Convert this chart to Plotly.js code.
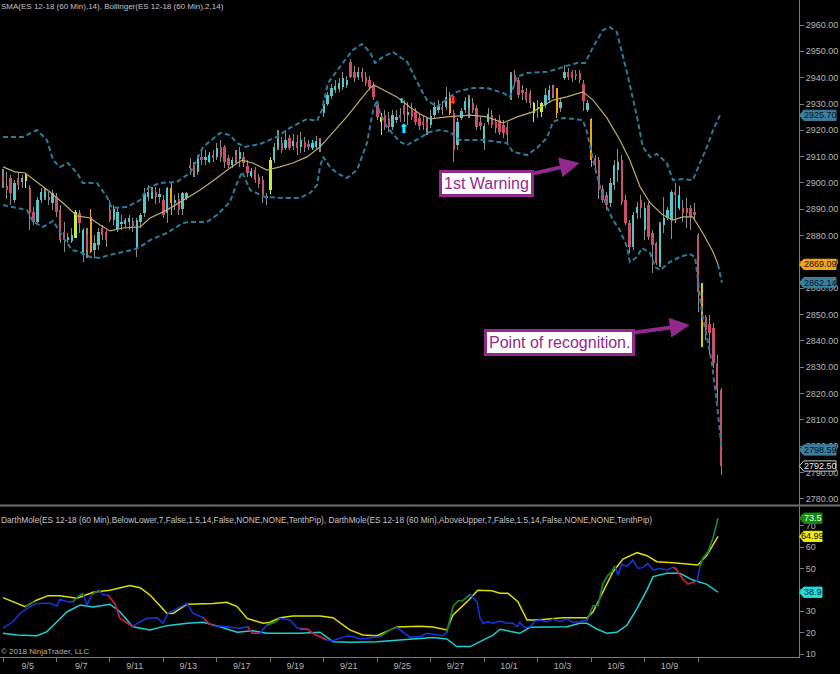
<!DOCTYPE html>
<html><head><meta charset="utf-8">
<script src="https://cdn.plot.ly/plotly-3.0.1.min.js"></script>
<style>html,body{margin:0;padding:0;background:#000;}#chart{width:840px;height:674px;}</style>
</head><body><div id="chart"></div>
<script>
// ---------- price data: ES 12-18 (60 Min), one row per session (7 bars) ----------
const open = [
2902.6,2899.0,2901.9,2893.5,2901.9,2900.3,2900.7,
2898.0,2888.9,2885.1,2893.5,2894.6,2894.6,2892.4,
2894.6,2889.7,2881.3,2878.3,2878.0,2879.0,2888.6,
2872.6,2880.2,2887.0,2874.5,2876.4,2882.9,2881.3,
2890.0,2885.9,2882.5,2884.4,2884.4,2885.1,2885.5,
2875.3,2885.1,2888.6,2894.6,2894.2,2896.5,2894.6,
2893.5,2888.6,2898.0,2892.4,2893.9,2890.0,2894.2,
2906.8,2906.8,2904.2,2909.9,2908.7,2908.0,2910.6,
2910.0,2913.7,2913.7,2909.5,2906.8,2910.6,2909.1,
2909.9,2906.3,2902.6,2904.9,2902.2,2901.1,2895.0,
2897.3,2908.7,2913.7,2915.2,2913.3,2917.1,2913.9,
2915.6,2913.7,2915.6,2914.8,2913.3,2913.7,2914.0,
2926.6,2930.0,2933.0,2935.3,2935.7,2936.4,2937.2,
2945.9,2942.1,2940.2,2942.1,2940.2,2939.1,2937.2,
2929.6,2925.0,2925.8,2924.7,2921.3,2924.0,2925.8,
2929.6,2925.8,2927.7,2926.9,2924.7,2923.2,2923.2,
2922.0,2925.8,2927.7,2928.8,2928.8,2933.4,2926.6,
2914.4,2924.7,2927.7,2928.5,2930.4,2928.5,2923.2,
2915.2,2923.2,2925.8,2923.2,2923.9,2922.0,2921.3,
2934.2,2941.0,2939.1,2935.3,2934.5,2934.2,2930.4,
2928.2,2926.9,2929.6,2931.5,2936.0,2936.0,2928.5,
2939.9,2942.1,2942.1,2941.4,2941.8,2937.6,2927.7,
2924.3,2909.5,2908.7,2897.6,2895.4,2892.4,2899.2,
2904.9,2908.7,2893.5,2884.8,2875.6,2888.6,2893.5,
2882.1,2891.6,2881.0,2877.2,2869.6,2884.0,2886.7,
2885.9,2896.5,2890.5,2890.5,2890.5,2890.5,2889.0,
2880.2,2858.2,2849.1,2846.6,2844.9,2831.6,2821.3];
const high = [
2905.3,2904.0,2903.0,2901.1,2904.2,2903.0,2903.8,
2899.2,2890.8,2894.6,2898.0,2898.0,2896.5,2897.3,
2896.2,2891.6,2885.1,2881.0,2882.9,2889.7,2889.7,
2882.9,2882.9,2890.0,2880.2,2882.9,2884.0,2882.1,
2893.5,2891.6,2890.5,2887.8,2886.7,2887.8,2886.7,
2886.7,2888.6,2898.0,2899.2,2898.5,2898.5,2898.0,
2895.4,2898.4,2900.3,2895.4,2896.2,2896.5,2896.5,
2909.5,2908.0,2910.6,2912.5,2912.5,2911.7,2912.5,
2915.2,2916.3,2914.4,2910.6,2909.9,2912.5,2913.7,
2911.7,2908.7,2905.7,2906.0,2903.4,2902.6,2896.2,
2909.9,2915.2,2920.0,2917.4,2920.0,2918.3,2918.5,
2918.2,2919.4,2917.4,2916.3,2916.3,2917.8,2917.1,
2931.5,2934.5,2937.6,2939.1,2939.9,2942.1,2940.6,
2947.1,2944.4,2944.0,2943.7,2942.1,2940.6,2938.4,
2930.8,2926.6,2927.7,2926.9,2927.7,2927.7,2928.5,
2931.5,2930.8,2930.4,2928.5,2926.6,2925.4,2924.7,
2927.7,2930.8,2931.5,2931.1,2936.4,2934.5,2927.7,
2924.7,2928.5,2932.7,2933.4,2932.3,2929.6,2925.0,
2922.8,2928.5,2927.7,2924.7,2925.8,2923.9,2923.2,
2942.1,2942.9,2940.2,2937.2,2936.0,2935.3,2930.8,
2931.5,2930.8,2936.0,2937.2,2937.2,2936.0,2932.3,
2944.8,2943.7,2942.9,2942.9,2942.9,2939.1,2931.5,
2924.7,2910.6,2909.9,2899.2,2896.5,2901.9,2908.7,
2913.0,2910.6,2895.4,2885.9,2889.0,2892.8,2895.4,
2892.8,2892.8,2882.1,2877.5,2885.1,2894.6,2890.8,
2897.3,2899.9,2898.8,2893.5,2894.2,2891.6,2892.4,
2881.0,2862.0,2849.8,2849.8,2846.8,2834.6,2822.1];
const low = [
2898.0,2894.0,2891.6,2892.4,2897.3,2898.0,2898.0,
2882.1,2884.0,2884.0,2892.4,2893.5,2891.6,2889.7,
2887.0,2877.2,2873.7,2877.2,2877.2,2879.0,2881.0,
2870.0,2871.4,2873.4,2871.4,2874.5,2878.3,2875.6,
2885.0,2884.0,2881.5,2882.1,2882.9,2882.1,2881.3,
2871.9,2882.9,2887.0,2893.0,2893.9,2892.0,2892.5,
2886.7,2884.8,2887.8,2889.7,2887.8,2887.8,2893.5,
2903.0,2902.2,2903.0,2906.8,2906.8,2907.6,2908.0,
2908.7,2908.0,2905.7,2905.7,2905.7,2907.6,2906.0,
2906.0,2902.2,2901.9,2899.9,2898.0,2892.4,2891.6,
2895.7,2907.6,2912.5,2911.4,2912.5,2912.5,2912.5,
2910.6,2911.4,2911.8,2912.5,2912.5,2912.5,2911.8,
2925.1,2929.2,2931.9,2934.2,2934.5,2935.3,2936.0,
2939.9,2938.4,2939.1,2938.4,2936.8,2935.3,2931.5,
2923.9,2918.2,2920.1,2919.4,2920.1,2922.8,2923.2,
2923.2,2922.0,2923.9,2922.0,2920.1,2920.1,2918.2,
2920.9,2924.7,2926.6,2925.8,2927.7,2925.8,2907.9,
2912.5,2923.9,2926.6,2924.7,2926.6,2920.1,2920.1,
2912.5,2922.0,2920.9,2919.0,2918.2,2917.1,2914.4,
2931.5,2937.2,2932.3,2931.5,2930.4,2928.5,2923.2,
2924.7,2925.0,2928.5,2930.4,2932.3,2924.7,2926.9,
2939.1,2939.1,2938.4,2939.1,2937.9,2927.5,2926.9,
2906.0,2903.8,2893.9,2892.4,2889.7,2890.8,2897.3,
2900.3,2891.6,2884.0,2873.4,2874.5,2886.2,2886.6,
2878.3,2878.3,2865.7,2868.8,2868.0,2881.0,2885.9,
2878.6,2884.8,2889.7,2885.0,2883.0,2882.1,2885.9,
2851.0,2837.7,2840.3,2834.6,2829.7,2816.4,2789.1];
const close = [
2900.7,2897.5,2896.2,2900.0,2899.2,2901.9,2903.0,
2888.6,2885.1,2893.5,2896.5,2896.5,2893.5,2896.2,
2889.0,2878.3,2878.3,2879.4,2880.2,2888.9,2884.8,
2882.0,2874.5,2873.7,2877.2,2881.3,2880.2,2878.3,
2885.9,2890.0,2889.0,2885.1,2885.9,2886.7,2883.6,
2885.9,2887.8,2896.2,2896.5,2896.5,2894.6,2896.0,
2887.8,2898.0,2892.4,2893.5,2889.7,2896.2,2896.2,
2905.7,2904.2,2909.9,2908.7,2909.9,2910.6,2909.5,
2913.3,2910.0,2908.0,2906.8,2908.7,2908.7,2911.7,
2907.6,2903.8,2904.5,2901.1,2899.6,2895.4,2894.2,
2908.7,2913.7,2916.7,2912.5,2916.3,2913.3,2915.8,
2913.3,2916.3,2913.3,2913.7,2915.2,2915.9,2915.2,
2930.0,2933.4,2936.0,2936.8,2937.9,2939.9,2939.1,
2940.2,2939.9,2942.1,2939.9,2937.9,2936.4,2932.7,
2925.0,2923.2,2921.3,2921.3,2925.8,2925.0,2924.7,
2925.8,2927.0,2925.0,2923.2,2921.6,2922.0,2920.9,
2925.4,2928.8,2929.2,2927.7,2932.7,2926.6,2912.5,
2923.2,2927.3,2931.1,2931.9,2927.7,2921.3,2921.6,
2921.6,2926.1,2922.0,2920.9,2919.4,2919.0,2918.2,
2941.0,2938.4,2933.4,2934.2,2931.5,2930.4,2926.6,
2928.8,2930.4,2933.4,2935.3,2933.4,2926.6,2930.8,
2942.1,2940.2,2939.9,2940.6,2939.1,2931.1,2930.4,
2908.7,2906.8,2897.3,2893.5,2891.6,2900.0,2906.8,
2908.0,2892.8,2884.8,2875.6,2887.8,2890.8,2890.5,
2890.5,2879.4,2876.4,2869.6,2884.0,2886.7,2889.7,
2896.5,2895.4,2895.4,2888.6,2888.6,2887.0,2887.8,
2858.6,2846.8,2844.1,2843.2,2831.6,2821.3,2792.5];

// signal bars painted by the indicator (bar numbers)
const sigYellow = [6, 99];
const sigChartreuse = [19, 70, 139, 141];
const sigOrange = [23, 44, 117, 145, 154, 183];
const sigCyan = [54, 65, 81, 177];

// signal arrows
const upArrowBar = [105];   const upArrowPrice = [2920.3];
const upSmallBar = [104.4]; const upSmallPrice = [2931.0];
const dnArrowBar = [117.8]; const dnArrowPrice = [2931.2];

// SMA(14)
const smaX = [0,3.1,5.8,8.9,12.3,15.7,19.4,22.8,25.4,28,31.4,35.9,38.5,42.9,48.2,51.6,56,59.4,62.6,65.4,69.1,72.5,75.9,79.6,83,86.4,90,93.5,96.1,97.1,99.5,103.1,106.5,109.2,111.8,116.2,122.3,126.7,130.9,134.6,138.7,144,147.6,151.8,154.5,158.1,161.5,164.1,166.8,169.4,172.8,175.4,178,180.6,183.2,185.9,187.2];
const smaY = [2906.1,2904.2,2903.8,2900.4,2896.6,2892.4,2887.5,2886.7,2884.0,2881.8,2882.9,2883.3,2886.7,2889.7,2894.3,2897.3,2901.9,2905.7,2908.7,2907.6,2904.9,2906.1,2907.6,2909.9,2913.7,2919.4,2925.1,2931.5,2936.1,2937.2,2935.3,2932.7,2928.9,2926.2,2924.3,2925.1,2925.8,2925.1,2922.8,2925.1,2927.0,2931.5,2932.7,2934.6,2931.5,2924.7,2916.3,2908.7,2898.5,2892.4,2887.8,2885.9,2887.1,2887.1,2881.0,2873.8,2869.09];

// Bollinger(2,14)
const bbUpX = [0,5.2,8.9,11.5,13.1,14.9,17,19.4,20.9,24.6,27.2,28.5,32.5,35.9,38,41.1,45.5,49,52.4,56.8,59.4,61.3,63.4,67.3,71.7,75.1,79.6,82.2,83.5,85.1,88.2,91.6,94,96.1,97.4,99.5,102.1,105.8,109.2,111,113.6,117,118.8,123,126.7,130.9,132.7,134.6,137.2,142.4,145.8,150.3,152.4,154.5,157.1,158.9,160.7,163.4,166,167.5,169.4,171.2,173.8,175.4,178,180.6,182.5,184.3,185.9,187.7];
const bbUpY = [2917.5,2917.5,2920.1,2916.3,2908.7,2906.1,2907.6,2903.8,2900.0,2900.0,2894.7,2890.5,2890.9,2893.5,2898.1,2900.0,2900.4,2903.8,2913.7,2919.0,2918.2,2915.2,2913.7,2914.8,2917.5,2920.9,2924.3,2923.5,2927.7,2938.0,2944.1,2950.5,2952.8,2949.7,2945.6,2947.9,2949.7,2946.0,2936.1,2931.5,2928.9,2932.7,2934.6,2936.1,2936.1,2934.2,2932.7,2940.3,2941.8,2942.2,2943.7,2945.6,2945.6,2951.7,2958.1,2959.2,2957.3,2941.8,2925.1,2913.7,2909.9,2911.0,2907.6,2901.1,2901.5,2901.1,2907.6,2913.7,2920.1,2925.70];
const bbLoX = [0,2.6,6.3,7.9,10.5,13.1,15.7,18.1,20.2,22.8,25.4,28,31.4,34,35.9,38.5,42.9,47.1,49,53.4,56,59.4,61.3,62.6,64.7,68.6,73.3,77.7,80.4,82.2,83,83.8,85.6,87.4,90,92.7,95.3,96.9,97.9,98.7,100.5,103.9,105.8,109.2,111.8,114.4,117,119.6,125.7,131.9,133.5,137.2,139.8,142.4,144,146.6,151.8,152.9,154.5,156.3,158.1,159.7,161.5,163.4,164.1,166,167.3,169.4,170.7,172,174.6,177.2,179.8,181.2,182,183,184.3,185.6,186.9,188.2];
const bbLoY = [2891.6,2890.9,2889.7,2885.2,2883.3,2885.6,2879.5,2874.5,2873.8,2871.9,2871.5,2872.7,2873.8,2874.6,2875.7,2878.3,2881.0,2884.8,2885.2,2885.2,2887.8,2892.8,2900.0,2904.2,2897.3,2894.7,2894.3,2894.3,2896.2,2899.2,2906.1,2909.9,2906.1,2903.8,2901.9,2904.9,2915.2,2927.7,2931.5,2926.6,2921.3,2915.6,2914.4,2917.1,2919.4,2920.1,2919.4,2916.3,2916.3,2915.2,2911.8,2910.6,2913.3,2917.1,2923.2,2924.7,2923.9,2919.4,2908.7,2898.5,2890.9,2885.9,2882.1,2875.7,2870.0,2871.9,2875.3,2873.4,2868.1,2866.9,2870.0,2871.9,2873.0,2871.9,2862.0,2850.6,2841.5,2831.6,2816.4,2798.59];
const bbMidX = [187.2, 188.2];
const bbMidY = [2869.09, 2862.14];

// DarthMole lower pane
const yelX = [0,5.8,8.9,11.8,14.9,19.4,23.6,28,33.2,35.9,38.5,42.9,44.5,48.2,55,58.6,61.3,63.9,68.1,69.9,72.5,75.9,83,86.4,90.8,94.2,97.9,103.1,109.2,112.6,116.2,117.8,121.5,124.3,128,130.1,132.2,134.8,137.2,139.8,146.6,152.9,154.5,157.1,159.7,162.3,166,168.6,171.2,175.4,179.1,181.9,184.3,185.9,187.2];
const yelY = [36.4,32.2,35.3,37.3,37.3,36.1,38.9,39.8,42,41,37.6,29.1,29,33.3,33.6,34.2,32.2,26.7,24.4,24.9,27,27.8,27.8,27,21.3,18.9,18.6,22.7,23,22.7,21.3,28.3,34.5,39.8,39.6,38.4,38.4,34.5,25.9,25.9,27,27,29.8,39.2,48.5,54.4,57.4,56,53.2,52.7,52,51.6,56.3,61,64.99];
const cyaX = [0,3.7,8.9,11.5,14.1,16.8,20.2,23.6,28,30.6,34,38.5,42.9,48.2,52.4,56.8,61.3,65.4,69.1,77.7,83,86.4,90.8,97.9,103.9,109.2,112.6,116.2,118.8,122.3,125.7,128.3,130.1,132.7,135.3,138,144,147.6,151,152.9,155.5,158.1,160.7,163.4,166,168.6,170.2,173.8,177.2,180.6,184.3,187.2];
const cyaY = [19.7,18.9,18.6,20.5,25.1,29.8,32.9,32,33.3,29.8,22.8,21.3,23.3,24.4,24.9,22.8,20.2,20.9,19.7,19.7,20.2,15.8,15.5,15.8,16.6,17.1,17.7,17.1,13.5,13.5,16.6,18.9,21.6,20.5,19.7,22.5,22.5,22.8,24.4,24.4,21.7,19.7,20.2,23.6,31.4,40,46.2,47.8,47.8,44.6,42.6,38.9];
const bluX = [0,2.6,4.5,7.1,8.9,12.3,14.1,14.9,16.8,18.3,19.6,20.9,22,23.3,25.1,26.2,27.5,29.3,30.6,32.5,34,35.1,37.7,40.3,41.9,43.2,45.5,48.2,49.7,52.4,53.7,55,58.6,62,64.1,65.2,67.3,69.1,71.2,72.5,75.1,77,79.6,81.2,83,84.8,86.4,90,91.6,93.5,95.3,98.7,101.3,103.1,106.5,109.2,111,113.6,115.2,116.2,117.8,119.1,120.4,122.3,124.1,124.9,125.7,127,128.3,130.1,131.9,133.5,134.6,135.3,136.6,138,139.3,140.6,142.4,144,145.8,147.6,149.2,151,152.9,154.5,155.8,157.1,158.4,159.4,160.2,161,162,163.4,164.9,166.2,167.5,168.8,170.2,172,173.8,175.4,176.2,178,179.3,181.2,181.7,182.5,183.2,184.6,185.9,187.2];
const bluY = [22.1,25.1,29.1,32.2,33.7,33.8,32.5,35.7,34.5,34.5,36.8,38.4,32.9,37.9,39.8,37.6,37.6,33.5,26.7,24.5,22.8,24.4,26.7,27,24.4,29.1,31.4,33.7,29.1,27,24.6,23.3,22.8,22.1,22.8,19.7,19.7,23.6,24.9,26.7,25.9,22.3,21.7,19.7,18,16.6,16.2,18.5,18.2,17.1,17.4,18.2,21.3,22.5,17.9,18.2,19.7,19.2,18.6,20.2,32.2,34.8,35,37.9,34.5,26.7,24.4,25.1,24.4,25.5,24.4,24.4,22.8,24.9,22.3,22.8,25.5,25.9,25.1,26.4,25.1,26.4,24.9,25.1,25.9,32.5,32.9,43.1,47,48.5,51.2,47,52,51,54,50.1,50.4,52.4,49.3,50,49.3,50.6,49.8,45.1,42.8,43.8,44.2,50.9,54.8,57.9,64.3,73.5];
const grnX = [5.8,7.1,8.2,null,18.3,19.6,20.9,null,23.3,24.2,25.1,null,69.1,71.2,72.5,null,98.7,101.3,103.1,null,116.2,117.8,119.1,120.4,122.3,null,152.9,154.5,155.8,157.1,158.4,159.4,160.2,null,182.5,183.2,184.6,185.9,187.2];
const grnY = [32.2,33.4,34.5,null,34.5,36.8,38.4,null,37.9,38.9,39.8,null,23.6,24.9,26.7,null,18.2,21.3,22.5,null,20.2,32.2,34.8,35,37.9,null,25.9,32.5,32.9,43.1,47,48.5,51.2,null,50.9,54.8,57.9,64.3,73.5];
const redX = [27.5,29.3,30.6,32.5,34,null,52.4,53.7,55,null,64.1,65.2,67.3,null,77.7,79.6,81.2,83,84.8,null,175.4,176.2,178,179.3,181.2];
const redY = [37.6,33.5,26.7,24.5,22.8,null,27,24.6,23.3,null,22.8,19.7,19.7,null,21.5,21.7,19.7,18,16.6,null,50.6,49.8,45.1,42.8,43.8];

// axis labels
const dateLabels = ['9/5','9/7','9/11','9/13','9/17','9/19','9/21','9/25','9/27','10/1','10/3','10/5','10/9'];
const labelSession = [1,3,5,7,9,11,13,15,17,19,21,23,25];
const tickSession = [0,2,4,6,8,10,12,14,16,18,20,22,24,26];
const barsPerSession = 7;

// last-value flags
const priceFlags = [
  {v: 2925.70, bg: '#3b7e9e', fg: '#071520', line: '#3b7e9e'},
  {v: 2869.09, bg: '#f2a41c', fg: '#1a1000', line: '#f2a41c'},
  {v: 2862.14, bg: '#3b7e9e', fg: '#071520', line: '#3b7e9e'},
  {v: 2798.59, bg: '#3b7e9e', fg: '#071520', line: '#3b7e9e'},
  {v: 2792.50, bg: '#000000', fg: '#e8e8e8', line: '#d0d0d0'}];
const moleFlags = [
  {v: 73.5, txt: '73.5', bg: '#138a13', fg: '#e8ffe8'},
  {v: 64.99, txt: '64.99', bg: '#f0f000', fg: '#000'},
  {v: 38.9, txt: '38.9', bg: '#22dede', fg: '#002020'}];

// ---------- build ----------
const UP = '#55c5c8', DOWN = '#c8506a', WICK = '#8a8a8a';
const SIG = {};
sigYellow.forEach(i => SIG[i] = '#e6e600');
sigChartreuse.forEach(i => SIG[i] = '#c4f03c');
sigOrange.forEach(i => SIG[i] = '#f2a400');
sigCyan.forEach(i => SIG[i] = '#00eeff');

const idx = open.map((_, i) => i);
const bodyBase = idx.map(i => Math.min(open[i], close[i]));
const bodyLen = idx.map(i => Math.max(Math.abs(close[i] - open[i]), 0.35));
const bodyCol = idx.map(i => SIG[i] || (close[i] >= open[i] ? UP : DOWN));
const wickCol = idx.map(i => SIG[i] ? (i === 183 ? '#d8d000' : SIG[i]) : WICK);

const BB = '#2c7b9c';
const traces = [
  {type:'scatter', mode:'lines', x:bbUpX, y:bbUpY, line:{color:BB, width:2, dash:'5px,3px'}, hoverinfo:'skip'},
  {type:'scatter', mode:'lines', x:bbLoX, y:bbLoY, line:{color:BB, width:2, dash:'5px,3px'}, hoverinfo:'skip'},
  {type:'scatter', mode:'lines', x:bbMidX, y:bbMidY, line:{color:BB, width:2, dash:'5px,3px'}, hoverinfo:'skip'},
  {type:'bar', x:idx, base:low, y:idx.map(i => high[i] - low[i]), width:0.28, marker:{color:wickCol, line:{width:0}}, hoverinfo:'skip'},
  {type:'bar', x:idx, base:bodyBase, y:bodyLen, width:0.62, marker:{color:bodyCol, line:{width:0}}, hoverinfo:'skip'},
  {type:'scatter', mode:'lines', x:smaX, y:smaY, line:{color:'#c2ac6c', width:1.2}, hoverinfo:'skip'},
  {type:'scatter', mode:'text', x:upArrowBar, y:upArrowPrice, text:upArrowBar.map(() => '⬆'), textfont:{family:'DejaVu Sans', size:13, color:'#28e8f0'}, hoverinfo:'skip'},
  {type:'scatter', mode:'text', x:upSmallBar, y:upSmallPrice, text:upSmallBar.map(() => '⬆'), textfont:{family:'DejaVu Sans', size:7, color:'#28e8f0'}, hoverinfo:'skip'},
  {type:'scatter', mode:'text', x:dnArrowBar, y:dnArrowPrice, text:dnArrowBar.map(() => '⬇'), textfont:{family:'DejaVu Sans', size:11, color:'#ff3355'}, hoverinfo:'skip'},
  {type:'scatter', mode:'lines', x:yelX, y:yelY, yaxis:'y2', line:{color:'#dede00', width:1.5}, hoverinfo:'skip'},
  {type:'scatter', mode:'lines', x:cyaX, y:cyaY, yaxis:'y2', line:{color:'#1ccfd6', width:1.5}, hoverinfo:'skip'},
  {type:'scatter', mode:'lines', x:bluX, y:bluY, yaxis:'y2', line:{color:'#1536e6', width:1.5}, hoverinfo:'skip'},
  {type:'scatter', mode:'lines', x:grnX, y:grnY, yaxis:'y2', connectgaps:false, line:{color:'#168a16', width:1.5}, hoverinfo:'skip'},
  {type:'scatter', mode:'lines', x:redX, y:redY, yaxis:'y2', connectgaps:false, line:{color:'#e81818', width:1.5}, hoverinfo:'skip'}
];

const FONT = 'Liberation Sans, Arial, sans-serif';
const shapes = [
  {type:'line', xref:'paper', yref:'paper', x0:0, x1:1.06, y0:0.2306, y1:0.2306, line:{color:'#707070', width:2}}
];
const annotations = [
  {xref:'paper', yref:'paper', x:-0.001, y:1, xanchor:'left', yanchor:'top', showarrow:false, text:'SMA(ES 12-18 (60 Min),14), Bollinger(ES 12-18 (60 Min),2,14)', font:{family:FONT, size:8, color:'#c4c4c4'}},
  {xref:'paper', yref:'paper', x:-0.001, y:0.2085, xanchor:'left', yanchor:'middle', showarrow:false, text:'DarthMole(ES 12-18 (60 Min),BelowLower,7,False,1.5,14,False,NONE,NONE,TenthPip), DarthMole(ES 12-18 (60 Min),AboveUpper,7,False,1.5,14,False,NONE,NONE,TenthPip)', font:{family:FONT, size:8.3, color:'#c4c4c4'}},
  {xref:'paper', yref:'paper', x:-0.001, y:0.009, xanchor:'left', yanchor:'middle', showarrow:false, text:'© 2018 NinjaTrader, LLC', font:{family:FONT, size:8, color:'#b0b0b0'}},
  {xref:'x', yref:'y', x:151, y:2907.6, text:'1st Warning', showarrow:true, ax:-93, ay:21, arrowhead:2, arrowsize:1, arrowwidth:4, arrowcolor:'#922a8e', font:{family:FONT, size:16, color:'#922a8e'}, bgcolor:'#ffffff', bordercolor:'#922a8e', borderwidth:3, borderpad:2},
  {xref:'x', yref:'y', x:179.8, y:2846.1, text:'Point of recognition.', showarrow:true, ax:-130, ay:18, arrowhead:2, arrowsize:1, arrowwidth:4, arrowcolor:'#922a8e', font:{family:FONT, size:16, color:'#922a8e'}, bgcolor:'#ffffff', bordercolor:'#922a8e', borderwidth:3, borderpad:2}
];
function flagShape(yref, v, h, xEnd, fill, line) {
  const t = 1.0005, s = 1.006;
  return {type:'path', layer:'above', xref:'paper', yref:yref,
    path:`M ${t},${v} L ${s},${v+h} L ${xEnd},${v+h} L ${xEnd},${v-h} L ${s},${v-h} Z`,
    fillcolor:fill, line:{color:line, width:1}};
}
priceFlags.forEach(f => {
  shapes.push(flagShape('y', f.v, 1.95, 1.0463, f.bg, f.line));
  annotations.push({xref:'paper', yref:'y', x:1.027, y:f.v, xanchor:'center', yanchor:'middle', showarrow:false, text:f.v.toFixed(2), font:{family:FONT, size:9, color:f.fg}});
});
moleFlags.forEach(f => {
  shapes.push(flagShape('y2', f.v, 2.4, 1.0288, f.bg, f.bg));
  annotations.push({xref:'paper', yref:'y2', x:1.0175, y:f.v, xanchor:'center', yanchor:'middle', showarrow:false, text:f.txt, font:{family:FONT, size:9, color:f.fg}});
});

const AX = '#7a7a7a';
const layout = {
  width:840, height:674, paper_bgcolor:'#000', plot_bgcolor:'#000',
  margin:{l:0, r:41, t:0, b:17, pad:0}, showlegend:false, barmode:'overlay', bargap:0,
  font:{family:FONT, size:9, color:'#b4b4b4'},
  xaxis:{range:[-0.785, 208.4], anchor:'y2', showgrid:false, zeroline:false, showline:true, linecolor:AX, linewidth:1,
    tickmode:'array', tickvals:labelSession.map(s => s * barsPerSession - 0.5), ticktext:dateLabels, ticks:'',
    tickfont:{family:FONT, size:9, color:'#b4b4b4'}, automargin:false,
    minor:{tickmode:'array', tickvals:tickSession.map(s => s * barsPerSession), ticks:'outside', ticklen:4, tickcolor:AX, tickwidth:1, showgrid:false}},
  yaxis:{domain:[0.2314, 1], range:[2777.7, 2969.5], side:'right', anchor:'x', showgrid:false, zeroline:false, showline:true, linecolor:AX,
    ticks:'outside', ticklen:4, tickcolor:AX, tick0:2780, dtick:10, tickformat:'.2f', automargin:false, tickfont:{family:FONT, size:9, color:'#b4b4b4'}},
  yaxis2:{domain:[0, 0.2298], range:[8.64, 79.2], side:'right', anchor:'x', showgrid:false, zeroline:false, showline:true, linecolor:AX,
    ticks:'outside', ticklen:4, tickcolor:AX, tick0:10, dtick:10, automargin:false, tickfont:{family:FONT, size:9, color:'#b4b4b4'}},
  shapes:shapes, annotations:annotations
};
Plotly.newPlot('chart', traces, layout, {staticPlot:true, displayModeBar:false});
</script></body></html>
